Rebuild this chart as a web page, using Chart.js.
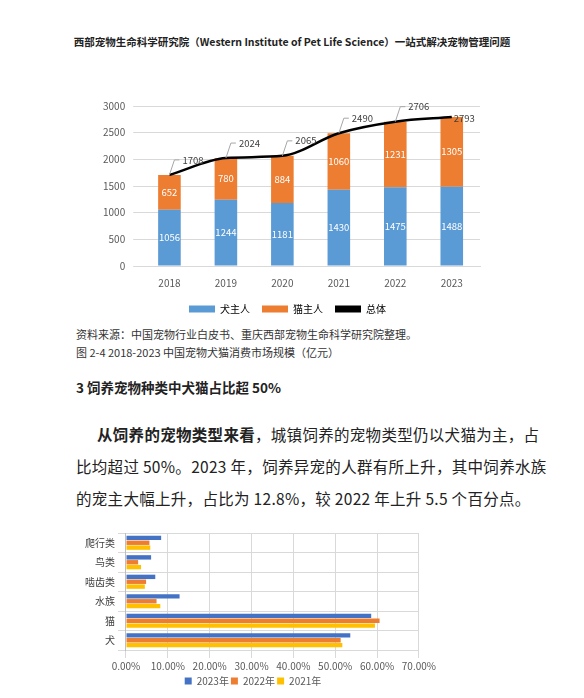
<!DOCTYPE html>
<html><head><meta charset="utf-8">
<script src="https://cdn.jsdelivr.net/npm/chart.js@4"></script>
<style>
body{margin:0;width:584px;height:698px;background:#fff;position:relative;overflow:hidden;font-family:"Noto Sans CJK SC",sans-serif;color:#222}
.abs{position:absolute}
#hdr{left:0;width:584px;top:34px;text-align:center;font-size:10.5px;font-weight:bold}
.cap{left:76px;font-size:11px;color:#333}
#h3{left:76px;top:377px;font-size:13.5px;font-weight:bold}
.p{left:76px;font-size:15.5px;letter-spacing:0.3px;color:#222}
</style></head><body>
<div id="hdr" class="abs">西部宠物生命科学研究院（Western Institute of Pet Life Science）一站式解决宠物管理问题</div>
<div class="abs" style="left:95px;top:92px;width:405px;height:232px"><canvas id="c1"></canvas></div>
<div class="abs cap" style="top:326px">资料来源：中国宠物行业白皮书、重庆西部宠物生命科学研究院整理。</div>
<div class="abs cap" style="top:344px">图 2-4 2018-2023 中国宠物犬猫消费市场规模（亿元）</div>
<div id="h3" class="abs">3 饲养宠物种类中犬猫占比超 50%</div>
<div class="abs p" style="top:423px;left:97px"><b>从饲养的宠物类型来看</b>，城镇饲养的宠物类型仍以犬猫为主，占</div>
<div class="abs p" style="top:455px">比均超过 50%。2023 年，饲养异宠的人群有所上升，其中饲养水族</div>
<div class="abs p" style="top:487px">的宠主大幅上升，占比为 12.8%，较 2022 年上升 5.5 个百分点。</div>
<div class="abs" style="left:82px;top:524px;width:356px;height:172px"><canvas id="c2"></canvas></div>
<script>
const years=['2018','2019','2020','2021','2022','2023'];
const dogOwners=[1056,1244,1181,1430,1475,1488];
const catOwners=[652,780,884,1060,1231,1305];
const totals=[1708,2024,2065,2490,2706,2793];
const petTypes=['爬行类','鸟类','啮齿类','水族','猫','犬'];
const share2023=[8.4,6.0,7.0,12.8,58.6,53.6];
const share2022=[5.6,2.9,4.8,7.3,60.6,51.3];
const share2021=[5.8,3.6,4.5,8.2,59.5,51.7];
const F='"Noto Sans CJK SC",sans-serif';
Chart.defaults.font.family=F;
Chart.defaults.color='#595959';
const labelsPlugin={id:'lbl',afterDatasetsDraw(ch){
  const ctx=ch.ctx;ctx.save();ctx.font='9.5px '+F;ctx.textAlign='center';ctx.textBaseline='middle';
  [0,1].forEach(d=>{ch.getDatasetMeta(d).data.forEach((el,i)=>{
    ctx.fillStyle='#fff';ctx.fillText(ch.data.datasets[d].data[i],el.x,(el.y+el.base)/2);});});
  const m=ch.getDatasetMeta(2);
  m.data.forEach((el,i)=>{
    ctx.strokeStyle='#a6a6a6';ctx.lineWidth=1;
    const lx=el.x+5,ly=el.y-15;
    if(i<5){ctx.beginPath();ctx.moveTo(el.x,el.y);ctx.lineTo(lx,ly);ctx.lineTo(lx+5,ly);ctx.stroke();}
    ctx.fillStyle='#404040';ctx.textAlign='left';
    if(i<5)ctx.fillText(totals[i],lx+8,ly);else ctx.fillText(totals[i],el.x+2,el.y+1);
  });
  ctx.restore();}};
new Chart(document.getElementById('c1'),{
  data:{labels:years,datasets:[
    {type:'bar',label:'犬主人',data:dogOwners,backgroundColor:'#5b9bd5',stack:'s',barPercentage:0.8,categoryPercentage:0.5,order:2},
    {type:'bar',label:'猫主人',data:catOwners,backgroundColor:'#ed7d31',stack:'s',barPercentage:0.8,categoryPercentage:0.5,order:2},
    {type:'line',label:'总体',data:totals,borderColor:'#000',backgroundColor:'#000',borderWidth:2.5,pointRadius:0,cubicInterpolationMode:'monotone',order:1}
  ]},
  options:{responsive:true,maintainAspectRatio:false,animation:false,
    layout:{padding:{right:20,top:8}},
    plugins:{legend:{position:'bottom',labels:{font:{size:10},boxWidth:26,boxHeight:7,padding:12,
      generateLabels(ch){return ch.data.datasets.map((d,i)=>({text:d.label,fillStyle:d.type==='line'?'#000':d.backgroundColor,strokeStyle:'transparent',lineWidth:0,datasetIndex:i}));}}},tooltip:{enabled:false}},
    scales:{x:{stacked:true,grid:{display:false},border:{color:'#d9d9d9'},ticks:{font:{size:10}}},
      y:{stacked:true,min:0,max:3000,ticks:{stepSize:500,font:{size:10},callback:v=>String(v),padding:8},grid:{color:'#d9d9d9'},border:{display:false}}}},
  plugins:[labelsPlugin]});
new Chart(document.getElementById('c2'),{type:'bar',
  data:{labels:petTypes,datasets:[
    {label:'2023年',data:share2023,backgroundColor:'#4472c4'},
    {label:'2022年',data:share2022,backgroundColor:'#ed7d31'},
    {label:'2021年',data:share2021,backgroundColor:'#ffc000'}]},
  options:{indexAxis:'y',responsive:true,maintainAspectRatio:false,animation:false,
    datasets:{bar:{barPercentage:0.9,categoryPercentage:0.75}},
    layout:{padding:{right:14,top:0}},
    plugins:{legend:{position:'bottom',labels:{font:{size:10},boxWidth:7,boxHeight:7,padding:2}},tooltip:{enabled:false}},
    scales:{x:{min:0,max:70,ticks:{stepSize:10,font:{size:10},callback:v=>v.toFixed(2)+'%',padding:2},grid:{color:'#d9d9d9'},border:{display:false}},
      y:{grid:{color:'#d9d9d9'},ticks:{font:{size:10},color:'#404040'},border:{color:'#bfbfbf'}}}}});
</script></body></html>
